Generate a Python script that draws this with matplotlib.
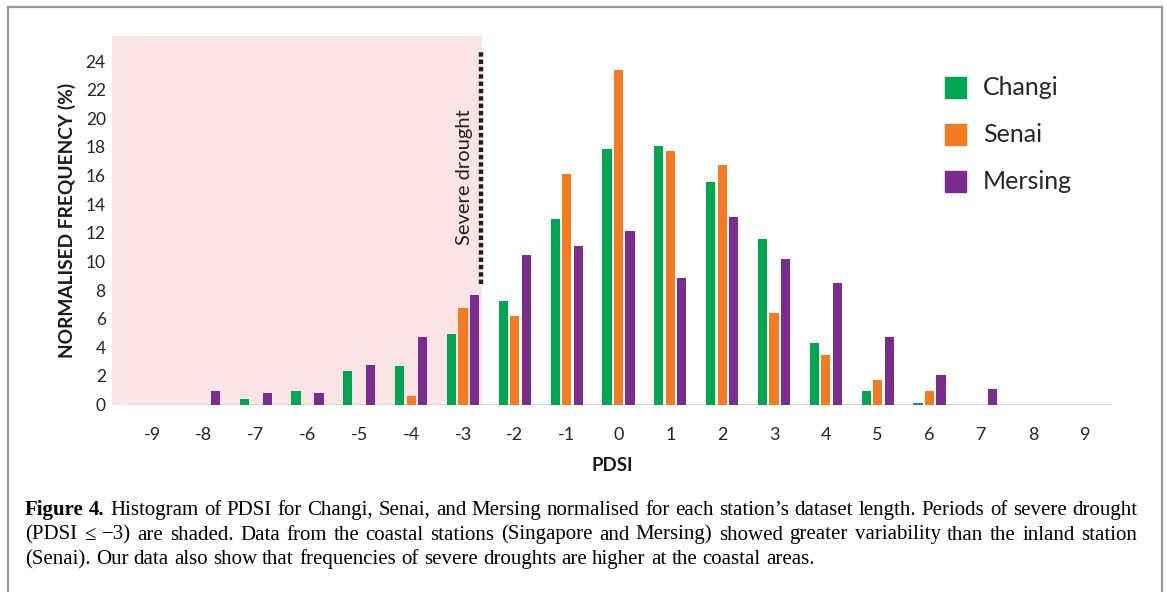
import matplotlib.pyplot as plt
import numpy as np
from matplotlib.lines import Line2D
from matplotlib.patches import Rectangle

# Dados (frequência normalizada em %)
pdsi = list(range(-9, 10))
changi = [0, 0, 0.35, 0.95, 2.35, 2.7, 4.95, 7.2, 12.93, 17.82, 18.05, 15.56, 11.56, 4.33, 0.93, 0.1, 0, 0, 0]
senai = [0, 0, 0, 0, 0, 0.56, 6.77, 6.2, 16.12, 23.35, 17.72, 16.72, 6.37, 3.46, 1.72, 0.93, 0, 0, 0]
mersing = [0, 0.93, 0.77, 0.77, 2.74, 4.72, 7.67, 10.47, 11.1, 12.1, 8.82, 13.1, 10.14, 8.49, 4.72, 2.09, 1.09, 0, 0]
stations = ["Changi", "Senai", "Mersing"]
colors = ["#00a651", "#f47b20", "#7b2c8f"]
y_ticks = list(range(0, 25, 2))

caption_lines = [
    "Figure 4. Histogram of PDSI for Changi, Senai, and Mersing normalised for each station\u2019s dataset length. Periods of severe drought",
    "(PDSI \u2264 \u22123) are shaded. Data from the coastal stations (Singapore and Mersing) showed greater variability than the inland station",
    "(Senai). Our data also show that frequencies of severe droughts are higher at the coastal areas.",
]
caption_justified = [True, True, False]

plt.rcParams["font.family"] = ["Lato", "DejaVu Sans"]

W, H = 1167, 592
fig = plt.figure(figsize=(W / 100, H / 100), dpi=100)
ax = fig.add_axes([112 / W, 1 - 404.5 / H, 1000 / W, 368.5 / H])

x = np.array(pdsi, dtype=float)
width = 0.175
offsets = [-0.222, 0, 0.222]
series = [changi, senai, mersing]

# Área de seca severa
ax.axvspan(-9.772, -2.63, color="#fbe4e6", zorder=0, lw=0)

for vals, off, col, name in zip(series, offsets, colors, stations):
    ax.bar(x + off, vals, width=width, color=col, edgecolor="none", zorder=2, label=name)

# Linha base
ax.plot([-9.48, 9.52], [0, 0], color="#d9d9d9", lw=2.2, zorder=1, solid_capstyle="butt")

# Linha pontilhada de seca severa
ax.plot([-2.66, -2.66], [8.4, 24.7], color="#231f20", lw=3.2,
        linestyle=(0, (1, 0.65)), dash_capstyle="butt", zorder=3)
ax.text(-2.98, 15.9, "Severe drought", rotation=90, ha="center", va="center",
        fontsize=14.5, color="#231f20")

ax.set_xlim(-9.772, 9.521)
ax.set_ylim(0, 25.75)
ax.set_xticks(pdsi)
ax.set_xticklabels([str(v) for v in pdsi])
ax.set_yticks(y_ticks)
ax.tick_params(axis="x", length=0, pad=16, labelsize=13, labelcolor="#262626")
ax.tick_params(axis="y", length=0, pad=4.5, labelsize=12.5, labelcolor="#262626")
for s in ax.spines.values():
    s.set_visible(False)

ax.set_ylabel("NORMALISED FREQUENCY (%)", fontsize=13.8, fontweight="bold", color="#1a1a1a", labelpad=7)
ax.set_xlabel("PDSI", fontsize=13.5, fontweight="bold", color="#1a1a1a", labelpad=10)

# Legenda manual
for i, (name, col) in enumerate(zip(stations, colors)):
    yc = 1 - (87.5 + 47 * i) / H
    fig.patches.append(Rectangle((945 / W, yc - 10.5 / H), 21 / W, 21 / H,
                                 transform=fig.transFigure, color=col))
    fig.text(983 / W, yc, name, fontsize=18, va="center", ha="left", color="#262626")

# Moldura
frame_col = "#9a9a9a"
top = 1 - 7 / H
fig.lines.append(Line2D([8 / W, 8 / W], [-0.1, top], transform=fig.transFigure, color=frame_col, lw=1.6))
fig.lines.append(Line2D([8 / W, 1162 / W], [top, top], transform=fig.transFigure, color=frame_col, lw=1.6))
fig.lines.append(Line2D([1162 / W, 1162 / W], [-0.1, top], transform=fig.transFigure, color=frame_col, lw=1.6))

# Legenda da figura (texto justificado palavra por palavra)
serif = ["Liberation Serif", "DejaVu Serif"]
cap_size = 15
fig.canvas.draw()
renderer = fig.canvas.get_renderer()

probe1 = fig.text(0, 0, "a a", family=serif, fontsize=cap_size)
probe2 = fig.text(0, 0, "aa", family=serif, fontsize=cap_size)
space = probe1.get_window_extent(renderer).width - probe2.get_window_extent(renderer).width
probe1.remove()
probe2.remove()

x_left, x_right = 25, 1137
for i, (line, just) in enumerate(zip(caption_lines, caption_justified)):
    yb = 1 - (515 + 24.5 * i) / H
    words = line.split(" ")
    texts = []
    for j, w in enumerate(words):
        bold = (i == 0 and j < 2)
        t = fig.text(0, yb, w, family=serif, fontsize=cap_size, va="baseline",
                     fontweight="bold" if bold else "normal")
        texts.append(t)
    widths = [t.get_window_extent(renderer).width for t in texts]
    if just:
        gap = (x_right - x_left - sum(widths)) / (len(words) - 1)
    else:
        gap = space
    pos = x_left
    for t, wd in zip(texts, widths):
        t.set_x(pos / W)
        pos += wd + gap

plt.savefig("out.png", dpi=100)
plt.close()
